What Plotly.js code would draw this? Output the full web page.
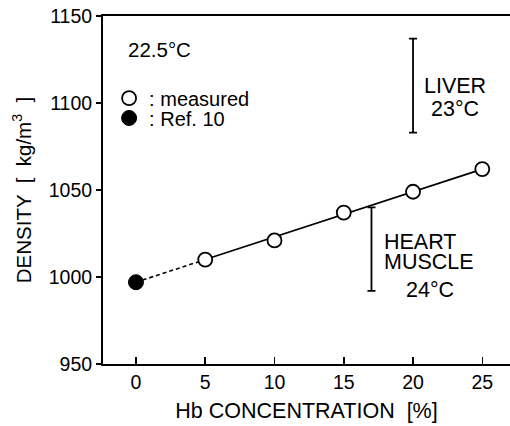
<!DOCTYPE html>
<html>
<head>
<meta charset="utf-8">
<script src="https://cdn.plot.ly/plotly-3.0.1.min.js"></script>
<style>html,body{margin:0;padding:0;background:#fff;}</style>
</head>
<body>
<div id="chart" style="width:510px;height:426px;"></div>
<script>
// Measured densities (open circles)
var measuredHb = [5, 10, 15, 20, 25];
var measuredDensity = [1010, 1021, 1037, 1049, 1062];
// Ref. 10 (filled circle)
var refHb = [0];
var refDensity = [997];
// Fitted line: solid over measured range, dashed extrapolation to Ref. 10
var fitSolidHb = [5, 25];
var fitSolidDensity = [1010, 1062];
var fitDashHb = [0, 5];
var fitDashDensity = [997, 1010];
// Tissue ranges
var liverHb = [20];
var liverLow = [1083];
var liverHigh = [1137];
var heartHb = [17];
var heartLow = [992];
var heartHigh = [1040];
var xTicks = [0, 5, 10, 15, 20, 25];
var yTicks = [950, 1000, 1050, 1100, 1150];

function mid(lo, hi){ return lo.map(function(v,i){ return (v+hi[i])/2; }); }
function half(lo, hi){ return lo.map(function(v,i){ return (hi[i]-v)/2; }); }

var FONT = 'Liberation Sans, Arial, Helvetica, sans-serif';

var traces = [
  {x: fitDashHb, y: fitDashDensity, mode: 'lines', line: {color: '#000', width: 1.6, dash: '4px,3px'}, showlegend: false, hoverinfo: 'skip'},
  {x: fitSolidHb, y: fitSolidDensity, mode: 'lines', line: {color: '#000', width: 1.6}, showlegend: false, hoverinfo: 'skip'},
  {x: liverHb, y: mid(liverLow, liverHigh), mode: 'markers', marker: {color: 'rgba(0,0,0,0)', size: 1},
   error_y: {type: 'data', array: half(liverLow, liverHigh), color: '#000', thickness: 1.8, width: 4}, showlegend: false},
  {x: heartHb, y: mid(heartLow, heartHigh), mode: 'markers', marker: {color: 'rgba(0,0,0,0)', size: 1},
   error_y: {type: 'data', array: half(heartLow, heartHigh), color: '#000', thickness: 1.8, width: 4}, showlegend: false},
  {x: measuredHb, y: measuredDensity, mode: 'markers', name: ': measured', legend: 'legend',
   marker: {symbol: 'circle', size: 14, color: '#fff', line: {color: '#000', width: 1.8}}},
  {x: refHb, y: refDensity, mode: 'markers', name: ': Ref. 10', legend: 'legend2',
   marker: {symbol: 'circle', size: 15, color: '#000', line: {color: '#000', width: 1}}}
];

var legendStyle = function(yPos){
  return {x: 0.015, y: yPos, xanchor: 'left', yanchor: 'middle', bgcolor: 'rgba(0,0,0,0)',
          font: {family: FONT, size: 20, color: '#000'}, itemwidth: 30};
};

function note(x, y, text, opts){
  var a = {x: x, y: y, xref: 'x', yref: 'y', text: text, showarrow: false, font: {family: FONT, size: 21.5, color: '#000'}};
  for (var k in (opts || {})) a[k] = opts[k];
  return a;
}

var layout = {
  width: 510, height: 426,
  margin: {l: 103, r: 0, t: 16, b: 62},
  paper_bgcolor: '#fff', plot_bgcolor: '#fff',
  font: {family: FONT, color: '#000', size: 19},
  showlegend: true,
  legend: legendStyle(0.764),
  legend2: legendStyle(0.707),
  xaxis: {
    range: [-2.38, 27.0], tickvals: xTicks, ticktext: xTicks.map(String),
    showgrid: false, zeroline: false, showline: true, linecolor: '#000', linewidth: 2, mirror: true,
    ticks: 'inside', ticklen: 7, tickwidth: 1.5, tickcolor: '#000',
    tickfont: {family: FONT, size: 19.5, color: '#000'},
    title: {text: 'Hb CONCENTRATION  [%]', font: {family: FONT, size: 21.5, color: '#000'}, standoff: 11},
    automargin: false
  },
  yaxis: {
    range: [950, 1150], tickvals: yTicks, ticktext: yTicks.map(String),
    showgrid: false, zeroline: false, showline: true, linecolor: '#000', linewidth: 2,
    ticks: 'outside', ticklen: 5, tickwidth: 1.5, tickcolor: '#000',
    tickfont: {family: FONT, size: 19.5, color: '#000'},
    title: {text: 'DENSITY  [  kg/m<sup>3</sup>  ]', font: {family: FONT, size: 20.5, color: '#000'}, standoff: 12},
    automargin: false
  },
  annotations: [
    note(1.73, 1130.5, '22.5°C', {font: {family: FONT, size: 20.5, color: '#000'}}),
    note(23.05, 1109.5, 'LIVER', {height: 22}),
    note(23.05, 1096.3, '23°C', {height: 22}),
    note(17.75, 1020.3, 'HEART', {xanchor: 'left', height: 19}),
    note(17.75, 1008.8, 'MUSCLE', {xanchor: 'left', height: 19}),
    note(21.2, 992.3, '24°C', {height: 22})
  ]
};

Plotly.newPlot('chart', traces, layout, {displayModeBar: false, staticPlot: true});
</script>
</body>
</html>
